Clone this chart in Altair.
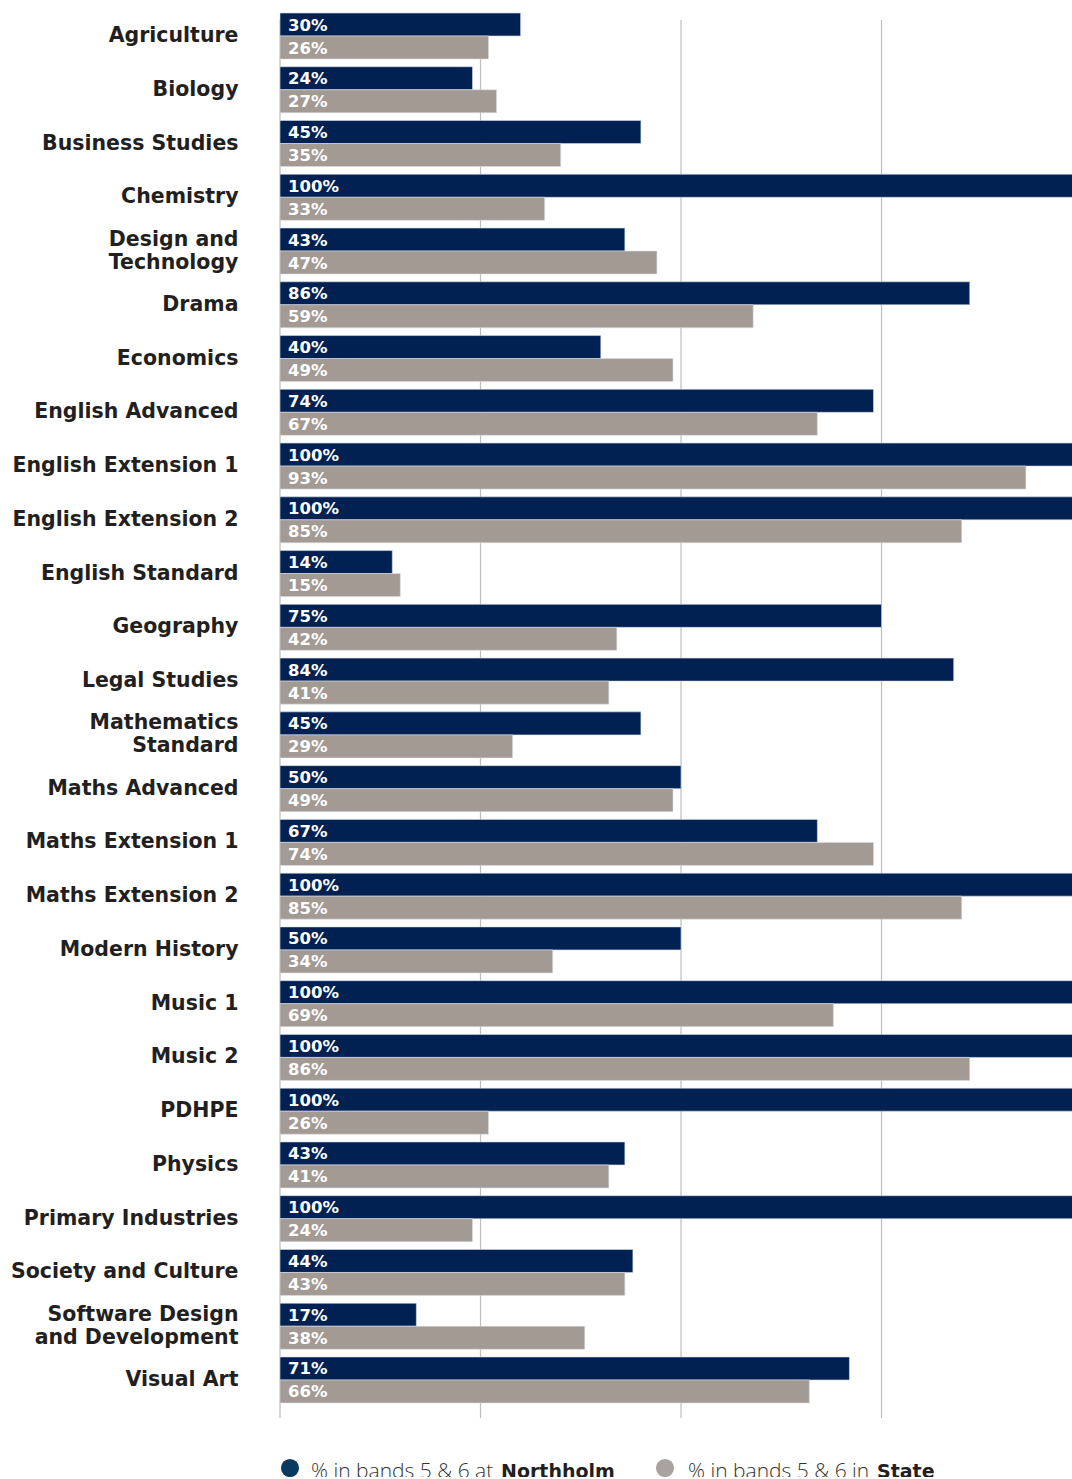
import altair as alt
import pandas as pd

subjects = [
    "Agriculture", "Biology", "Business Studies", "Chemistry",
    "Design and Technology", "Drama", "Economics", "English Advanced",
    "English Extension 1", "English Extension 2", "English Standard",
    "Geography", "Legal Studies", "Mathematics Standard", "Maths Advanced",
    "Maths Extension 1", "Maths Extension 2", "Modern History", "Music 1",
    "Music 2", "PDHPE", "Physics", "Primary Industries",
    "Society and Culture", "Software Design and Development", "Visual Art",
]
northholm = [30, 24, 45, 100, 43, 86, 40, 74, 100, 100, 14, 75, 84, 45, 50,
             67, 100, 50, 100, 100, 100, 43, 100, 44, 17, 71]
state = [26, 27, 35, 33, 47, 59, 49, 67, 93, 85, 15, 42, 41, 29, 49,
         74, 85, 34, 69, 86, 26, 41, 24, 43, 38, 66]
series = ["Northholm", "State"]
colors = ["#012152", "#a39a94"]
legend_colors = ["#0b3a60", "#aaa29c"]
legend_normal = ["% in bands 5 & 6 at ", "% in bands 5 & 6 in "]
legend_bold = ["Northholm", "State"]
grid_values = [0, 25, 50, 75]

rows = []
for s, n, st in zip(subjects, northholm, state):
    rows.append({"subject": s, "series": "Northholm", "value": n, "label": f"{n}%"})
    rows.append({"subject": s, "series": "State", "value": st, "label": f"{st}%"})
df = pd.DataFrame(rows)

two_line = "datum.value == 'Design and Technology' || datum.value == 'Mathematics Standard' || datum.value == 'Software Design and Development'"
label_expr = (
    "datum.label == 'Design and Technology' ? ['Design and', 'Technology'] : "
    "datum.label == 'Mathematics Standard' ? ['Mathematics', 'Standard'] : "
    "datum.label == 'Software Design and Development' ? ['Software Design', 'and Development'] : "
    "datum.label"
)

LABEL_FONT = "DejaVu Sans"
xscale = alt.Scale(domain=[0, 98.75], nice=False, zero=True)
yenc = alt.Y(
    "subject:N", sort=subjects,
    scale=alt.Scale(paddingInner=0.144, paddingOuter=0),
    axis=alt.Axis(
        title=None, domain=False, ticks=False, labelPadding=42,
        labelFont=LABEL_FONT, labelFontWeight="bold", labelFontSize=20.5,
        labelColor="#231f20", labelExpr=label_expr, labelLineHeight=23,
        labelLimit=300,
        labelOffset={"condition": {"test": two_line, "value": -11.5}, "value": 0},
    ),
)
yoff = alt.YOffset("series:N", sort=series, scale=alt.Scale(paddingInner=0, paddingOuter=0))
color = alt.Color("series:N", scale=alt.Scale(domain=series, range=colors), legend=None)

grid = alt.Chart(pd.DataFrame({"g": grid_values})).mark_rule(
    color="#bdbdbd", strokeWidth=1.2
).encode(
    x=alt.X("g:Q", scale=xscale, axis=None),
    y=alt.value(7), y2=alt.value(1405),
)

bars = alt.Chart(df).mark_bar(stroke="#d6dde8", strokeWidth=0.6).encode(
    x=alt.X("value:Q", scale=xscale, axis=None),
    y=yenc, yOffset=yoff, color=color,
)

texts = alt.Chart(df).mark_text(
    align="left", baseline="middle", font=LABEL_FONT, fontWeight="bold",
    fontSize=16.5, color="white", dx=8, dy=1,
).encode(
    x=alt.value(0), y=yenc, yOffset=yoff, text="label:N",
)

def legend_item(i, cx, tx, bx):
    d = pd.DataFrame({"normal": [legend_normal[i]], "bold": [legend_bold[i]]})
    base = alt.Chart(d)
    dot = base.mark_circle(size=330, opacity=1, color=legend_colors[i]).encode(
        x=alt.value(cx), y=alt.value(1455),
    )
    t1 = base.mark_text(
        align="left", baseline="alphabetic", font="Open Sans", fontSize=21,
        fontWeight=300, color="#333333",
    ).encode(x=alt.value(tx), y=alt.value(1465), text="normal:N")
    t2 = base.mark_text(
        align="left", baseline="alphabetic", font=LABEL_FONT, fontSize=19,
        fontWeight="bold", color="#231f20",
    ).encode(x=alt.value(bx), y=alt.value(1465), text="bold:N")
    return [dot, t1, t2]

chart = alt.layer(
    grid, bars, texts,
    *legend_item(0, 10, 31, 221),
    *legend_item(1, 385, 408, 597),
).properties(
    width=792, height=1390,
    autosize=alt.AutoSizeParams(type="none"),
    padding={"left": 280, "top": 13, "right": 0, "bottom": 74},
).configure_view(stroke=None)

chart.save("out.html", embed_options={"renderer": "svg", "actions": False})
